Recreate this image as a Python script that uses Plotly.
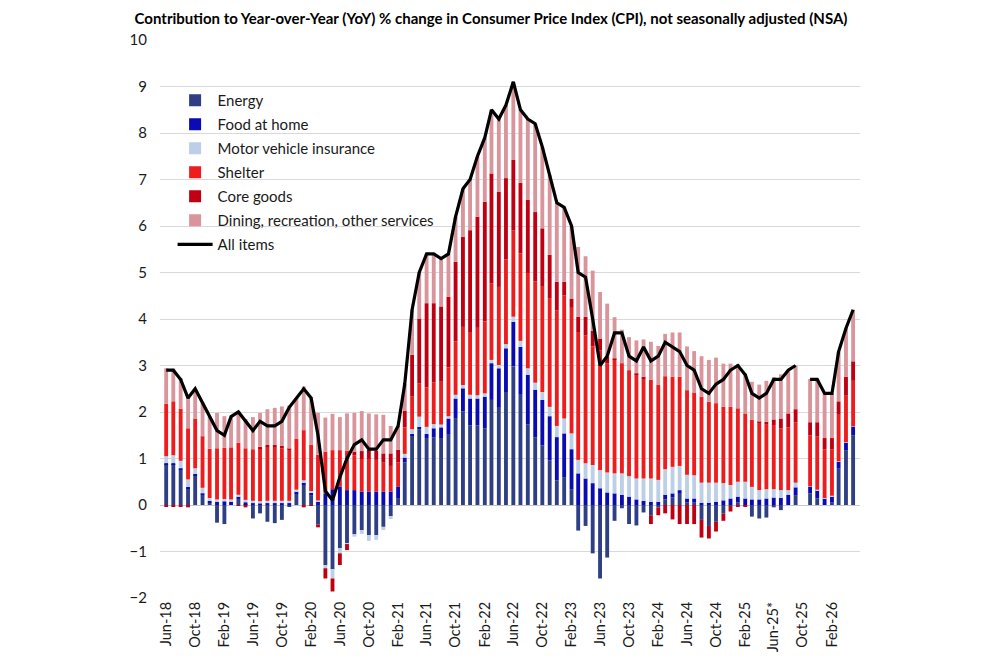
import plotly.graph_objects as go
import pandas as pd

# monthly, Jun-18 .. May-26 (Oct-25 not published)
months = pd.date_range("2018-06-01", "2026-05-01", freq="MS")

energy = [0.88, 0.88, 0.76, 0.36, 0.64, 0.22, 0.05, -0.38, -0.41, 0.00, 0.13, 0.02,
          -0.29, -0.18, -0.36, -0.39, -0.32, -0.04, 0.25, 0.44, 0.20, -0.42, -1.29, -1.38,
          -0.93, -0.82, -0.63, -0.54, -0.65, -0.65, -0.47, -0.24, 0.15, 0.92, 1.50, 1.63,
          1.44, 1.45, 1.44, 1.51, 1.87, 2.01, 1.71, 1.71, 1.65, 2.26, 2.09, 2.43,
          2.98, 2.37, 1.73, 1.45, 1.28, 0.96, 0.53, 0.60, 0.33, -0.55, -0.45, -1.04,
          -1.58, -1.13, -0.34, -0.07, -0.41, -0.44, -0.16, -0.22, -0.05, 0.12, 0.16, 0.24,
          0.06, 0.05, -0.32, -0.45, -0.36, -0.18, -0.02, 0.06, -0.01, -0.25, -0.29, -0.27,
          -0.05, -0.11, 0.00, 0.20, None, 0.25, 0.14, 0.00, 0.05, 0.78, 1.18, 1.50]

food_at_home = [0.02, 0.02, 0.03, 0.03, 0.03, 0.03, 0.04, 0.07, 0.08, 0.08, 0.05, 0.04,
                0.04, 0.03, 0.04, 0.04, 0.04, 0.04, 0.04, 0.04, 0.06, 0.07, 0.25, 0.34,
                0.39, 0.32, 0.32, 0.29, 0.29, 0.29, 0.29, 0.29, 0.25, 0.10, 0.03, 0.05,
                0.09, 0.20, 0.23, 0.35, 0.42, 0.50, 0.58, 0.58, 0.68, 0.79, 0.85, 0.94,
                0.96, 1.03, 1.07, 1.03, 0.98, 0.95, 0.93, 0.94, 0.87, 0.68, 0.57, 0.47,
                0.36, 0.27, 0.25, 0.22, 0.18, 0.12, 0.09, 0.07, 0.07, 0.10, 0.09, 0.08,
                0.08, 0.09, 0.05, 0.05, 0.07, 0.10, 0.14, 0.12, 0.14, 0.12, 0.12, 0.14,
                0.16, 0.15, 0.22, 0.18, None, 0.14, 0.18, 0.14, 0.14, 0.15, 0.16, 0.18]

motor_insurance = [0.15, 0.17, 0.16, 0.16, 0.12, 0.12, 0.06, 0.05, 0.05, 0.04, 0.04, 0.05,
                   0.05, 0.05, 0.05, 0.05, 0.05, 0.05, 0.04, 0.05, 0.04, 0.03, -0.07, -0.20,
                   -0.11, -0.02, -0.05, -0.08, -0.12, -0.10, -0.07, -0.06, 0.00, 0.08, 0.10, 0.22,
                   0.15, 0.09, 0.06, 0.05, 0.08, 0.07, 0.08, 0.07, 0.07, 0.07, 0.07, 0.09,
                   0.11, 0.13, 0.14, 0.15, 0.17, 0.20, 0.24, 0.32, 0.34, 0.29, 0.33, 0.39,
                   0.39, 0.43, 0.43, 0.46, 0.44, 0.45, 0.48, 0.50, 0.47, 0.55, 0.57, 0.52,
                   0.51, 0.50, 0.43, 0.43, 0.41, 0.37, 0.29, 0.32, 0.36, 0.27, 0.20, 0.20,
                   0.18, 0.17, 0.10, 0.10, None, 0.01, 0.01, 0.01, 0.01, 0.01, 0.01, 0.01]

shelter = [1.13, 1.16, 1.12, 1.10, 1.07, 1.11, 1.06, 1.10, 1.10, 1.12, 1.12, 1.11,
           1.11, 1.14, 1.14, 1.14, 1.13, 1.10, 1.10, 1.08, 1.00, 0.98, 0.90, 0.84,
           0.79, 0.85, 0.75, 0.70, 0.70, 0.68, 0.62, 0.55, 0.52, 0.57, 0.70, 0.72,
           0.85, 0.90, 0.92, 1.05, 1.15, 1.25, 1.35, 1.45, 1.55, 1.65, 1.68, 1.82,
           1.85, 1.88, 2.05, 2.18, 2.28, 2.34, 2.48, 2.65, 2.70, 2.75, 2.75, 2.55,
           2.58, 2.35, 2.45, 2.37, 2.28, 2.24, 2.15, 2.12, 2.04, 2.00, 1.94, 1.92,
           1.82, 1.78, 1.85, 1.74, 1.71, 1.64, 1.68, 1.58, 1.47, 1.44, 1.45, 1.40,
           1.38, 1.33, 1.35, 1.30, None, 1.10, 1.15, 1.05, 1.00, 1.00, 1.00, 0.98]

core_goods = [-0.04, -0.03, -0.03, -0.05, 0.00, 0.00, 0.00, 0.00, 0.00, 0.00, -0.02, -0.05,
              0.00, 0.03, 0.06, 0.06, 0.05, 0.02, 0.00, -0.05, -0.02, -0.06, -0.22, -0.28,
              -0.25, -0.13, 0.08, 0.17, 0.20, 0.20, 0.20, 0.27, 0.27, 0.36, 0.90, 1.39,
              1.81, 1.70, 1.62, 1.52, 1.71, 1.94, 2.19, 2.39, 2.57, 2.36, 2.05, 1.75,
              1.52, 1.52, 1.57, 1.49, 1.24, 0.93, 0.62, 0.29, 0.20, 0.33, 0.40, 0.34,
              0.25, 0.14, 0.02, 0.00, 0.00, 0.02, 0.04, -0.19, -0.17, -0.18, -0.31, -0.41,
              -0.41, -0.41, -0.38, -0.27, -0.21, -0.16, -0.12, -0.03, -0.02, 0.00, 0.02, 0.05,
              0.12, 0.21, 0.30, 0.28, None, 0.28, 0.30, 0.24, 0.24, 0.29, 0.41, 0.42]

other_services = [0.76, 0.70, 0.66, 0.70, 0.64, 0.72, 0.69, 0.76, 0.68, 0.66, 0.68, 0.63,
                  0.69, 0.73, 0.77, 0.80, 0.85, 0.93, 0.87, 0.94, 1.02, 0.90, 0.73, 0.78,
                  0.71, 0.80, 0.83, 0.86, 0.78, 0.78, 0.83, 0.59, 0.51, 0.57, 0.97, 0.99,
                  1.06, 1.06, 1.03, 0.92, 0.97, 1.03, 1.09, 1.30, 1.38, 1.37, 1.56, 1.57,
                  1.68, 1.57, 1.74, 1.90, 1.75, 1.72, 1.70, 1.60, 1.56, 1.50, 1.30, 1.29,
                  1.00, 1.14, 0.89, 0.72, 0.71, 0.71, 0.80, 0.82, 0.84, 0.91, 0.95, 0.95,
                  0.94, 0.89, 0.87, 0.90, 0.98, 0.93, 0.93, 0.95, 0.86, 0.82, 0.80, 0.88,
                  0.91, 0.95, 0.93, 0.94, None, 0.93, 0.92, 0.96, 0.96, 1.07, 1.04, 1.11]

all_items = [2.9, 2.9, 2.7, 2.3, 2.5, 2.2, 1.9, 1.6, 1.5, 1.9, 2.0, 1.8,
             1.6, 1.8, 1.7, 1.7, 1.8, 2.1, 2.3, 2.5, 2.3, 1.5, 0.3, 0.1,
             0.6, 1.0, 1.3, 1.4, 1.2, 1.2, 1.4, 1.4, 1.7, 2.6, 4.2, 5.0,
             5.4, 5.4, 5.3, 5.4, 6.2, 6.8, 7.0, 7.5, 7.9, 8.5, 8.3, 8.6,
             9.1, 8.5, 8.3, 8.2, 7.7, 7.1, 6.5, 6.4, 6.0, 5.0, 4.9, 4.0,
             3.0, 3.2, 3.7, 3.7, 3.2, 3.1, 3.4, 3.1, 3.2, 3.5, 3.4, 3.3,
             3.0, 2.9, 2.5, 2.4, 2.6, 2.7, 2.9, 3.0, 2.8, 2.4, 2.3, 2.4,
             2.7, 2.7, 2.9, 3.0, None, 2.7, 2.7, 2.4, 2.4, 3.3, 3.8, 4.2]

tick_dates = pd.date_range("2018-06-01", "2026-02-01", freq="4MS")
tick_labels = ["Jun-18", "Oct-18", "Feb-19", "Jun-19", "Oct-19", "Feb-20", "Jun-20", "Oct-20",
               "Feb-21", "Jun-21", "Oct-21", "Feb-22", "Jun-22", "Oct-22", "Feb-23", "Jun-23",
               "Oct-23", "Feb-24", "Jun-24", "Oct-24", "Feb-25", "Jun-25*", "Oct-25", "Feb-26"]

components = [
    ("Energy", energy, "#2E3F86"),
    ("Food at home", food_at_home, "#0B0BB4"),
    ("Motor vehicle insurance", motor_insurance, "#BCCFE6"),
    ("Shelter", shelter, "#EE1C1C"),
    ("Core goods", core_goods, "#C00012"),
    ("Dining, recreation, other services", other_services, "#D9959B"),
]

fig = go.Figure()
for name, vals, color in components:
    fig.add_trace(go.Bar(x=months, y=vals, name=name, marker_color=color,
                         marker_line_width=0, legendgroup=name))
fig.add_trace(go.Scatter(x=months, y=all_items, name="All items", mode="lines",
                         line=dict(color="black", width=3.2), connectgaps=False,
                         legendgroup="all"))

# page body adds an 8px offset, margins compensate for it
fig.update_layout(
    width=1000, height=668,
    barmode="relative", bargap=0.42,
    plot_bgcolor="white", paper_bgcolor="white",
    font=dict(family="Lato, Open Sans, sans-serif", size=15, color="#1a1a1a"),
    title=dict(text="<b>Contribution to Year-over-Year (YoY) % change in Consumer Price Index (CPI), not seasonally adjusted (NSA)</b>",
               x=0.483, xanchor="center", y=0.992, yanchor="top",
               font=dict(size=15, color="black")),
    margin=dict(l=152, r=148, t=32, b=78),
    legend=dict(x=0.018, y=0.921, xanchor="left", yanchor="top", traceorder="grouped",
                tracegroupgap=1.5, bgcolor="rgba(0,0,0,0)", font=dict(size=15),
                itemwidth=35),
    showlegend=True,
)
fig.update_xaxes(range=["2018-05-06", "2026-05-30"], tickmode="array", tickvals=tick_dates,
                 ticktext=tick_labels, tickangle=-90, showgrid=False, ticks="",
                 tickfont=dict(size=14.5))
fig.update_yaxes(range=[-2, 10], dtick=1, showgrid=True, gridcolor="#D9D9D9", gridwidth=1,
                 zeroline=True, zerolinecolor="#C8C8C8", zerolinewidth=1,
                 tickfont=dict(size=15), ticklabelstandoff=12)

fig.write_html("out.html")
